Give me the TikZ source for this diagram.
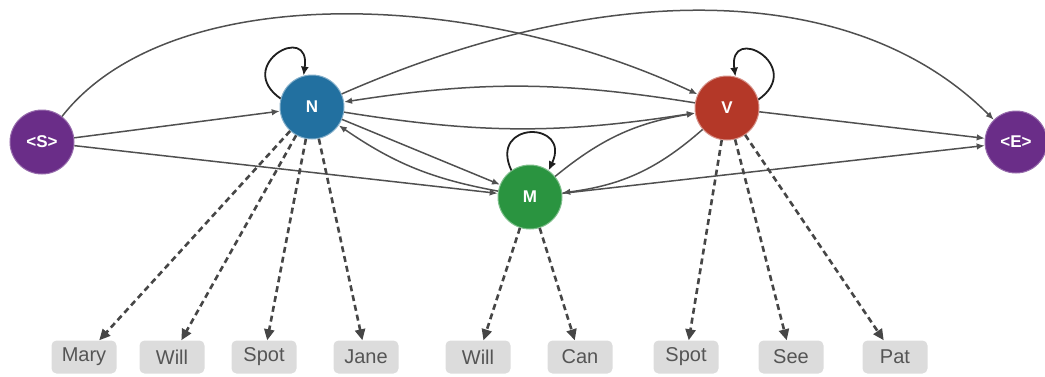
\documentclass[tikz,border=0pt]{standalone}
\usepackage{fontspec}
\setmainfont{Liberation Sans}
\usetikzlibrary{arrows.meta}
\definecolor{cpurple}{RGB}{106,45,136}
\definecolor{cblue}{RGB}{34,112,160}
\definecolor{cgreen}{RGB}{42,148,64}
\definecolor{cred}{RGB}{180,56,40}
\definecolor{boxgray}{RGB}{220,220,220}
\definecolor{wordtext}{RGB}{85,85,85}
\definecolor{edgegray}{RGB}{80,80,80}
\definecolor{emitgray}{RGB}{70,70,70}
\definecolor{loopgray}{RGB}{30,30,30}
\begin{document}
\begin{tikzpicture}[x=1pt,y=1pt,
  state/.style={circle, minimum size=64pt, inner sep=0pt, text=white,
    font=\fontsize{17}{20}\selectfont\bfseries},
  word/.style={rectangle, rounded corners=5pt, fill=boxgray, text=wordtext,
    minimum width=65pt, minimum height=33pt, inner sep=0pt,
    font=\fontsize{20}{24}\selectfont},
  trans/.style={draw=edgegray, line width=1.5pt, -{Latex[length=8pt,width=6.5pt]}},
  emit/.style={draw=emitgray, line width=2.6pt, dash pattern=on 6pt off 4pt,
    -{Triangle[length=11pt,width=10pt]}},
  selfloop/.style={draw=loopgray, line width=1.8pt, -{Latex[length=9pt,width=8pt]}}
]
\useasboundingbox (0,0) rectangle (1045,-376);

% states
\node[state, fill=cpurple, draw=cpurple!70!white, line width=1pt] (S) at (42,-142) {<S>};
\node[state, fill=cblue, draw=cblue!55!white, line width=1pt] (N) at (312,-107) {N};
\node[state, fill=cgreen, draw=cgreen!60!white, line width=1pt] (M) at (530,-197) {M};
\node[state, fill=cred, draw=cred!55!white, line width=1pt] (V) at (727,-108) {V};
\node[state, fill=cpurple, draw=cpurple!70!white, line width=1pt, minimum size=62pt] (E) at (1016,-142) {<E>};

% words
\node[word] (w1) at (84,-357) {Mary};
\node[word] (w2) at (172,-357) {Will};
\node[word] (w3) at (264,-357) {Spot};
\node[word] (w4) at (366,-357) {Jane};
\node[word] (w5) at (478,-357) {Will};
\node[word] (w6) at (580,-357) {Can};
\node[word] (w7) at (686,-357) {Spot};
\node[word] (w8) at (791,-357) {See};
\node[word] (w9) at (895,-357) {Pat};

% transitions
\draw[trans] (S) -- (N);
\draw[trans] (S) -- (M);
\draw[trans] (S) .. controls (168,19) and (468,13) .. (V);
\draw[trans] (N) .. controls (599,19) and (851,23) .. (E);
\draw[trans] (V) to[bend right=9] (N);
\draw[trans] (N) to[bend right=9] (V);
\draw[trans] (N) -- (M);
\draw[trans] (M) to[bend left=12] (N);
\draw[trans] (M) to[bend left=15] (V);
\draw[trans] (V) to[bend left=17] (M);
\draw[trans] (V) -- (E);
\draw[trans] (M) -- (E);

% self loops
\draw[selfloop] (N.165) .. controls +(145:58) and +(82:55) .. (N.105);
\draw[selfloop] (V.15) .. controls +(35:58) and +(98:55) .. (V.75);
\draw[selfloop] (M.125) .. controls +(115:55) and +(65:55) .. (M.55);

% emissions
\draw[emit] (N) -- (w1);
\draw[emit] (N) -- (w2);
\draw[emit] (N) -- (w3);
\draw[emit] (N) -- (w4);
\draw[emit] (M) -- (w5);
\draw[emit] (M) -- (w6);
\draw[emit] (V) -- (w7);
\draw[emit] (V) -- (w8);
\draw[emit] (V) -- (w9);
\end{tikzpicture}
\end{document}
